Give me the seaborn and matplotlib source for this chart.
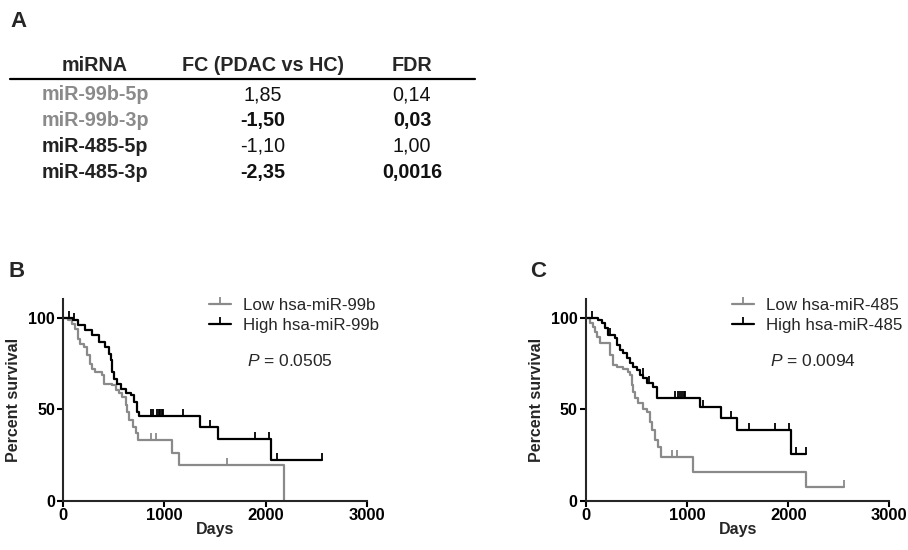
import numpy as np
import pandas as pd
import matplotlib
matplotlib.use("Agg")
import matplotlib.pyplot as plt
from matplotlib.lines import Line2D
import seaborn as sns

# ---------------- data ----------------
mirnas = ["miR-99b-5p", "miR-99b-3p", "miR-485-5p", "miR-485-3p"]
fc_values = ["1,85", "-1,50", "-1,10", "-2,35"]
fdr_values = ["0,14", "0,03", "1,00", "0,0016"]
significant = [False, True, False, True]
mirna_gray = [True, True, False, False]
table_headers = ["miRNA", "FC (PDAC vs HC)", "FDR"]

# Panel B (hsa-miR-99b)
b_low_t = [0, 50, 83, 117, 150, 167, 200, 233, 267, 283, 317, 383, 400, 483, 517, 550,
           583, 617, 633, 653, 687, 720, 743, 1070, 1143, 2180, 2180]
b_low_s = [100, 98.5, 96.7, 94, 88.6, 85.9, 84, 79.5, 75, 72.3, 70.4, 68.6, 64.1, 63.2, 60.5, 59.2,
           56.8, 52.3, 48.7, 44.2, 40.5, 37, 33.3, 26.1, 19.7, 19.7, 0]
b_low_cens = [863, 917, 1620]

b_high_t = [0, 100, 150, 217, 283, 350, 417, 450, 467, 483, 500, 533, 567, 617, 667, 700,
            733, 750, 1350, 1527, 2053, 2560]
b_high_s = [100, 98.5, 95.8, 93.1, 90.4, 86.7, 84, 80.4, 76.8, 70.4, 66.8, 64.1, 61.4, 59.2, 57.8, 54.1,
            48.7, 46.6, 40.4, 33.7, 22.3, 22.3]
b_high_cens = [60, 110, 863, 887, 930, 945, 960, 975, 987, 1180, 1455, 1897, 2035, 2110, 2560]

# Panel C (hsa-miR-485)
c_low_t = [0, 40, 72, 89, 105, 138, 237, 270, 303, 369, 419, 435, 452, 468, 485, 518,
           567, 600, 633, 650, 682, 715, 739, 1061, 2175, 2551]
c_low_s = [100, 96.9, 95, 92.3, 89.6, 86, 79.6, 74.2, 73.2, 72.3, 70.5, 68.7, 63.2, 59.6, 56, 53.3,
           50.5, 48.7, 43.2, 38.7, 33.3, 29.6, 24.2, 16, 7.8, 7.8]
c_low_cens = [848, 903, 2551]

c_high_t = [0, 89, 122, 155, 188, 221, 287, 303, 336, 369, 402, 435, 468, 501, 534, 567,
            600, 666, 699, 1127, 1332, 1496, 2027, 2175]
c_high_s = [100, 99.6, 98.7, 96.9, 94.2, 90.5, 88.7, 85.1, 82.3, 80.5, 77.8, 75.1, 73.2, 71.4, 68.7, 66.9,
            64.2, 62.3, 56.5, 51.1, 45.1, 38.9, 25.6, 25.6]
c_high_cens = [60, 240, 560, 620, 880, 910, 930, 950, 965, 980, 1154, 1431, 1615, 1869, 2011, 2077, 2175]

b_labels = ["Low hsa-miR-99b", "High hsa-miR-99b"]
c_labels = ["Low hsa-miR-485", "High hsa-miR-485"]
b_pvalue = "0.0505"
c_pvalue = "0.0094"
x_ticks = [0, 1000, 2000, 3000]
y_ticks = [0, 50, 100]

GRAY = "#8a8a8a"
BLACK = "#000000"

# ---------------- style ----------------
sns.set_style("ticks")
plt.rcParams["font.family"] = ["Liberation Sans", "DejaVu Sans"]
plt.rcParams["mathtext.fontset"] = "custom"
plt.rcParams["mathtext.rm"] = "Liberation Sans"
plt.rcParams["mathtext.it"] = "Liberation Sans:italic"
plt.rcParams["axes.linewidth"] = 1.5

W, H = 908, 550
fig = plt.figure(figsize=(W / 100, H / 100), dpi=100)


def fx(px):
    return px / W


def fy(py):
    return 1 - py / H


# ---------------- panel A: table ----------------
fig.text(fx(10), fy(27), "A", fontsize=16, fontweight="bold", ha="left", va="baseline")
col_x = [95, 263, 412]
for j in range(3):
    fig.text(fx(col_x[j]), fy(70.7), table_headers[j], fontsize=14.2, fontweight="bold",
             ha="center", va="baseline")
fig.add_artist(Line2D([fx(10), fx(475)], [fy(78.7), fy(78.7)], color="black", lw=1.6,
                      transform=fig.transFigure))
row_base = [100, 126, 152, 178]
for i in range(len(mirnas)):
    fig.text(fx(col_x[0]), fy(row_base[i]), mirnas[i], fontsize=14.2, fontweight="bold",
             color=GRAY if mirna_gray[i] else "#222222", ha="center", va="baseline")
    w = "bold" if significant[i] else "normal"
    fig.text(fx(col_x[1]), fy(row_base[i]), fc_values[i], fontsize=14.2, fontweight=w,
             color="#111111", ha="center", va="baseline")
    fig.text(fx(col_x[2]), fy(row_base[i]), fdr_values[i], fontsize=14.2, fontweight=w,
             color="#111111", ha="center", va="baseline")


# ---------------- KM panels ----------------
def step_value(ts, ss, t):
    idx = np.searchsorted(np.asarray(ts), t, side="right") - 1
    return np.asarray(ss)[idx]


def km_panel(left_px, right_px, letter, letter_x, low_t, low_s, low_c, high_t, high_s, high_c,
             labels, pval):
    top_px, bottom_px = 299.3, 501.3
    ax = fig.add_axes([fx(left_px), fy(bottom_px), (right_px - left_px) / W, (bottom_px - top_px) / H])
    for t, s, c, col in [(low_t, low_s, low_c, GRAY), (high_t, high_s, high_c, BLACK)]:
        df = pd.DataFrame({"Days": t, "Survival": s})
        sns.lineplot(data=df, x="Days", y="Survival", ax=ax, estimator=None, sort=False,
                     drawstyle="steps-post", color=col, lw=1.6)
        cdf = pd.DataFrame({"Days": c, "Survival": [step_value(t, s, v) for v in c]})
        ax.plot(cdf["Days"], cdf["Survival"], ls="none", marker=2, ms=5, mew=1.3, color=col)
    ax.set_xlim(0, 3000)
    ax.set_ylim(0, 110)
    ax.set_xticks(x_ticks)
    ax.set_yticks(y_ticks)
    ax.set_xticklabels([str(v) for v in x_ticks], fontweight="bold", fontsize=12)
    ax.set_yticklabels([str(v) for v in y_ticks], fontweight="bold", fontsize=11.5)
    ax.tick_params(length=4, width=1.5, pad=2, colors="black")
    ax.tick_params(axis="x", pad=1)
    ax.set_xlabel("Days", fontweight="bold", fontsize=11.5, labelpad=-1)
    ax.set_ylabel("Percent survival", fontweight="bold", fontsize=11.5, labelpad=5)
    sns.despine(ax=ax)
    ax.spines["bottom"].set_bounds(0, 3000)
    handles = [Line2D([], [], color=GRAY, lw=1.6, marker=2, ms=5, mew=1.3),
               Line2D([], [], color=BLACK, lw=1.6, marker=2, ms=5, mew=1.3)]
    ax.legend(handles, labels, loc="upper left",
              bbox_to_anchor=(146 / (right_px - left_px), 1.008),
              frameon=False, fontsize=12.2, handlelength=1.3, handletextpad=0.7,
              labelspacing=0.3, borderpad=0, borderaxespad=0)
    ax.text(1818, 76.5, r"$P$ = " + pval, fontsize=12.5, ha="left", va="center")
    fig.text(fx(letter_x), fy(277), letter, fontsize=16, fontweight="bold", ha="left", va="baseline")
    return ax


km_panel(63.3, 366.7, "B", 8, b_low_t, b_low_s, b_low_cens, b_high_t, b_high_s, b_high_cens,
         b_labels, b_pvalue)
km_panel(586, 889.3, "C", 530, c_low_t, c_low_s, c_low_cens, c_high_t, c_high_s, c_high_cens,
         c_labels, c_pvalue)

fig.savefig("out.png", dpi=100)
